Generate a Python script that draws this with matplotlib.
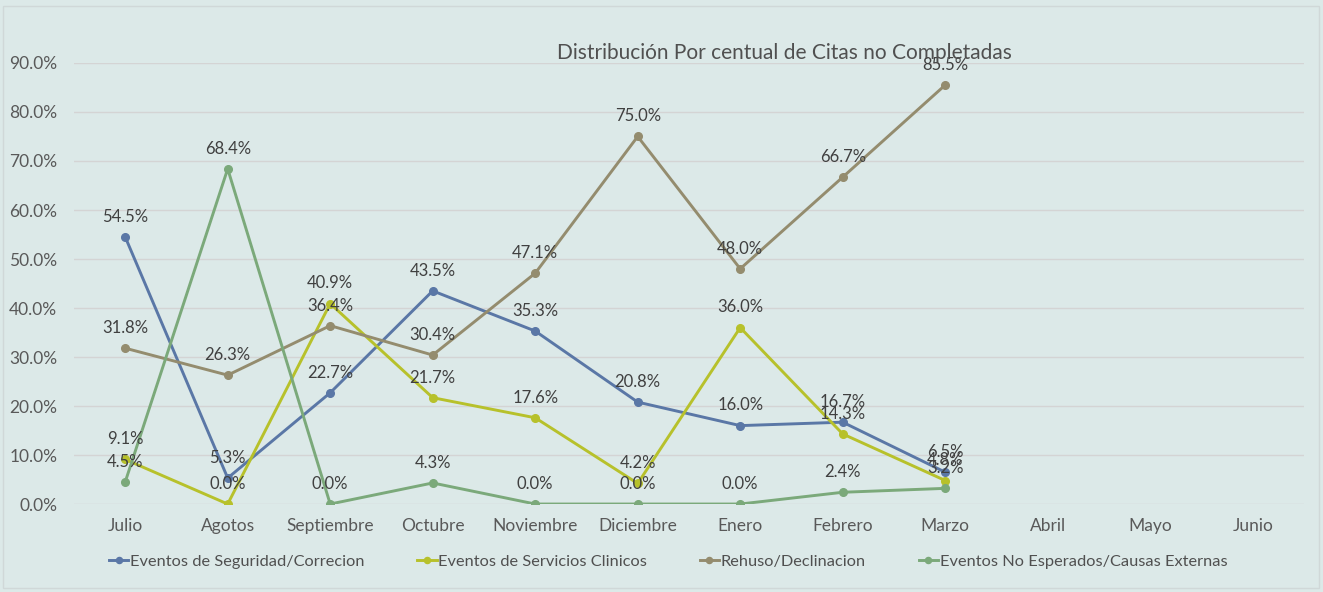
import numpy as np
import matplotlib
matplotlib.use("Agg")
import matplotlib.pyplot as plt
from matplotlib.patches import Rectangle

plt.rcParams['font.family'] = ['Lato', 'DejaVu Sans']

meses = ["Julio", "Agotos", "Septiembre", "Octubre", "Noviembre", "Diciembre",
         "Enero", "Febrero", "Marzo", "Abril", "Mayo", "Junio"]

seguridad = [54.5, 5.3, 22.7, 43.5, 35.3, 20.8, 16.0, 16.7, 6.5]
servicios = [9.1, 0.0, 40.9, 21.7, 17.6, 4.2, 36.0, 14.3, 4.8]
rehuso = [31.8, 26.3, 36.4, 30.4, 47.1, 75.0, 48.0, 66.7, 85.5]
no_esperados = [4.5, 68.4, 0.0, 4.3, 0.0, 0.0, 0.0, 2.4, 3.2]

series = [
    ("Eventos de Seguridad/Correcion", seguridad, "#5A77A6"),
    ("Eventos de Servicios Clinicos", servicios, "#B7C12B"),
    ("Rehuso/Declinacion", rehuso, "#948C6E"),
    ("Eventos No Esperados/Causas Externas", no_esperados, "#7BA97A"),
]

bg = "#DCE9E8"
fig = plt.figure(figsize=(13.23, 5.92), dpi=100, facecolor=bg)
ax = fig.add_axes([0.0559, 0.1486, 0.9297, 0.745])
ax.set_facecolor(bg)

x = np.arange(len(meses))
for nombre, vals, col in series:
    xs = x[:len(vals)]
    ys = np.array(vals) / 100
    ax.plot(xs, ys, color=col, lw=2.1, marker='o', ms=5.5, label=nombre)
    for xi, yi, v in zip(xs, ys, vals):
        ax.annotate(f"{v:.1f}%", (xi, yi), xytext=(0, 14.5), textcoords='offset points',
                    ha='center', va='center', fontsize=12, color='#404040')

ax.set_xlim(-0.5, len(meses) - 0.5)
ax.set_ylim(0, 0.9)
ax.set_yticks(np.arange(0, 0.91, 0.1))
ax.set_yticklabels([f"{t * 100:.1f}%" for t in np.arange(0, 0.91, 0.1)])
ax.set_xticks(x)
ax.set_xticklabels(meses)
ax.tick_params(axis='both', length=0, labelsize=12.5, labelcolor='#595959')
ax.tick_params(axis='x', pad=10)
ax.tick_params(axis='y', pad=12)
ax.grid(axis='y', color='#D4D4D4', lw=1)
ax.set_axisbelow(True)
for s in ax.spines.values():
    s.set_visible(False)

fig.text(0.593, 0.91, "Distribución Por centual de Citas no Completadas",
         ha='center', va='center', fontsize=15, color='#505050')

fig.legend(loc='center', bbox_to_anchor=(0.505, 0.051), ncol=4, frameon=False,
           fontsize=11.8, labelcolor='#505050', handlelength=1.2, handletextpad=0.1,
           columnspacing=3.2, markerscale=0.8)

fig.patches.append(Rectangle((0.0023, 0.007), 0.9947, 0.983, transform=fig.transFigure,
                             fill=False, edgecolor='#D0D8D8', lw=1))

fig.savefig("out.png", dpi=100, facecolor=bg)
